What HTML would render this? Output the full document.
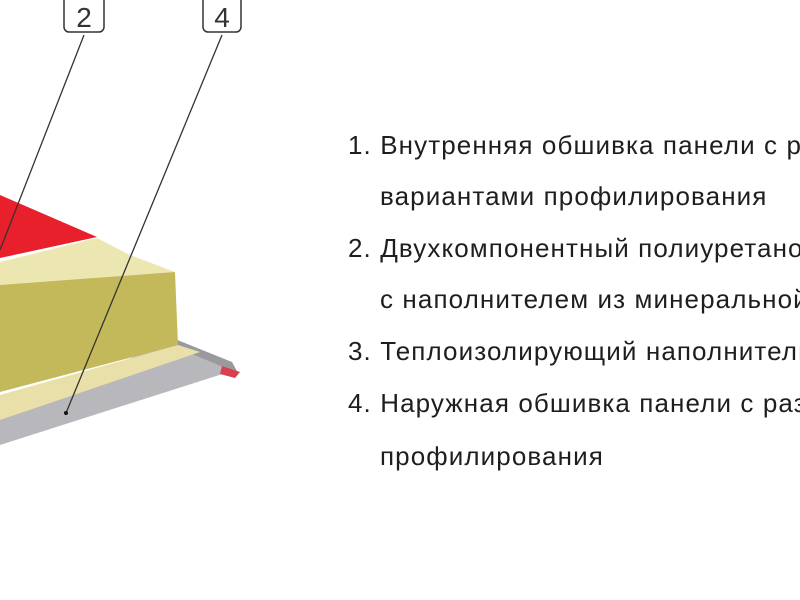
<!DOCTYPE html>
<html><head><meta charset="utf-8"><style>
html,body{margin:0;padding:0;width:800px;height:600px;overflow:hidden;background:#fff}
.t{position:absolute;font-family:"Liberation Sans",Arial,sans-serif;font-size:26px;letter-spacing:1.1px;color:#1e1e1e;white-space:nowrap;line-height:1}
</style></head><body>
<svg width="800" height="600" style="position:absolute;left:0;top:0">
<polygon points="0,418 170,340 235,370 0,445" fill="#b8b8bc"/>
<polygon points="165,335 232,362 238,373 170,345" fill="#9a9a9e"/>
<polygon points="222,366 240,372 235,378 220,374" fill="#d84050"/>
<polygon points="0,395 178,345 200,352 0,420" fill="#e8e0a8"/>
<polygon points="0,280 175,272 178,345 0,392" fill="#c4b95a"/>
<polygon points="0,262 97,238 130,255 175,272 0,285" fill="#ece6b0"/>
<polygon points="0,195 97,237 0,258" fill="#e8202c"/>
<line x1="84" y1="35" x2="0" y2="250" stroke="#333" stroke-width="1.3"/>
<line x1="222" y1="35" x2="66" y2="413" stroke="#333" stroke-width="1.3"/>
<circle cx="66" cy="413" r="2" fill="#111"/>
<rect x="64" y="-6" width="40" height="38" rx="5" fill="#fff" stroke="#333" stroke-width="1.5"/>
<rect x="203" y="-6" width="38" height="38" rx="5" fill="#fff" stroke="#333" stroke-width="1.5"/>
<text x="84" y="27" font-family="Liberation Sans,sans-serif" font-size="28" text-anchor="middle" fill="#333">2</text>
<text x="222" y="27" font-family="Liberation Sans,sans-serif" font-size="28" text-anchor="middle" fill="#333">4</text>
</svg>
<div class="t" style="left:348px;top:132px">1. Внутренняя обшивка панели с р</div>
<div class="t" style="left:380px;top:183px">вариантами профилирования</div>
<div class="t" style="left:348px;top:235px">2. Двухкомпонентный полиуретано</div>
<div class="t" style="left:380px;top:286px">с наполнителем из минеральной</div>
<div class="t" style="left:348px;top:338px">3. Теплоизолирующий наполнитель</div>
<div class="t" style="left:348px;top:390px">4. Наружная обшивка панели с раз</div>
<div class="t" style="left:380px;top:443px">профилирования</div>
</body></html>
